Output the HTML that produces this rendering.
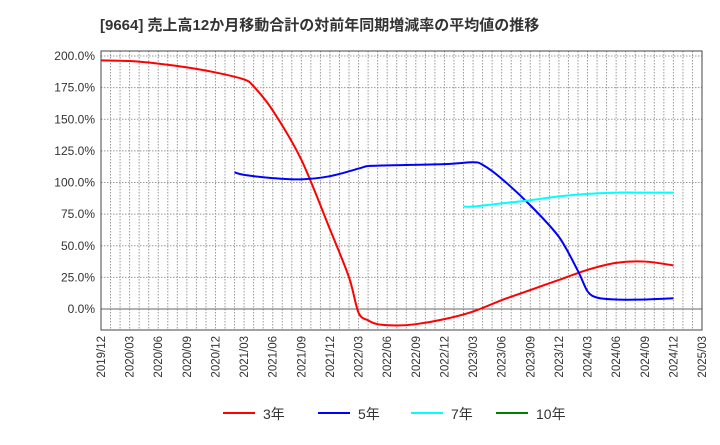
<!DOCTYPE html>
<html><head><meta charset="utf-8"><style>
body{margin:0;background:#fff;}
svg text{font-family:"Liberation Sans","Noto Sans CJK JP",sans-serif;}
</style></head><body>
<svg id="c" width="720" height="440" xmlns="http://www.w3.org/2000/svg">
<text x="100" y="30" font-size="15" font-weight="bold" fill="#333">[9664]  売上高12か月移動合計の対前年同期増減率の平均値の推移</text>
<g id="grid"></g><g id="axes"></g><g id="series"></g><g id="legend"></g>
</svg>
<script>
const months3 = [0,3,6,9,12,15,16,18,21,24,26,27,28,29,31,33,36,39,42,45,48,51,54,57,60];
const vals3 = [196.5,196,194,191,187,181.5,176,157,118,63,25,-3,-9,-12,-13,-12,-8,-2,7,15,23,31,36.5,37.5,34.5];
const months5 = [14,15,18,21,24,27,28,30,36,39,40,42,45,48,50,51,52,54,57,60];
const vals5 = [108,106,103.5,102.5,105,111,113,113.5,114.5,116,114,103,82,57,30,14,9,7.5,7.5,8.5];
const months7 = [38,39,42,45,48,51,54,57,60];
const vals7 = [81,81,83.5,86,89,91,92,92,92];
const yTicks = [0,25,50,75,100,125,150,175,200];
const xLabels = ["2019/12","2020/03","2020/06","2020/09","2020/12","2021/03","2021/06","2021/09","2021/12","2022/03","2022/06","2022/09","2022/12","2023/03","2023/06","2023/09","2023/12","2024/03","2024/06","2024/09","2024/12","2025/03"];
const L=101,R=702,T=51,B=330;
const xs=m=>L+m*(R-L)/63;
const ys=v=>309-v*(309-56)/200;
const NS="http://www.w3.org/2000/svg";
function mk(tag,attrs,parent){const e=document.createElementNS(NS,tag);for(const k in attrs)e.setAttribute(k,attrs[k]);parent.appendChild(e);return e;}
const grid=document.getElementById('grid'),axes=document.getElementById('axes'),ser=document.getElementById('series'),leg=document.getElementById('legend');
for(let m=1;m<63;m++){const l=mk('line',{x1:xs(m),x2:xs(m),y1:T,y2:B,stroke:'#999','stroke-width':1,'stroke-dasharray':'1.5,1.5'},grid);

}
yTicks.forEach(v=>{const l=mk('line',{x1:L,x2:R,y1:ys(v),y2:ys(v),stroke:v===0?'#666':'#999','stroke-width':1,'stroke-dasharray':v===0?'':'1.5,1.5'},grid);


const t=mk('text',{x:L-6,y:ys(v)+4,'text-anchor':'end','font-size':12,fill:'#333'},axes);t.textContent=v.toFixed(1)+'%';

});
const fr=mk('rect',{x:L,y:T,width:R-L,height:B-T,fill:'none',stroke:'#444','stroke-width':1},axes);


xLabels.forEach((s,i)=>{const x=xs(i*3);const t=mk('text',{transform:`translate(${x+4},${B+6}) rotate(-90)`,'text-anchor':'end','font-size':11.5,fill:'#333'},axes);t.textContent=s;

});
function line(ms,vs,color,name){
const P=ms.map((m,i)=>[xs(m),ys(vs[i])]);
let d='M'+P[0][0]+','+P[0][1];
for(let i=0;i<P.length-1;i++){const p0=P[Math.max(i-1,0)],p1=P[i],p2=P[i+1],p3=P[Math.min(i+2,P.length-1)];const k=0.15;
d+=` C${p1[0]+(p2[0]-p0[0])*k},${p1[1]+(p2[1]-p0[1])*k} ${p2[0]-(p3[0]-p1[0])*k},${p2[1]-(p3[1]-p1[1])*k} ${p2[0]},${p2[1]}`;}
const p=mk('path',{d:d,fill:'none',stroke:color,'stroke-width':2,'stroke-linejoin':'round'},ser);

}
line(months3,vals3,'#ff0000','series-3yr');
line(months5,vals5,'#0000ff','series-5yr');
line(months7,vals7,'#00ffff','series-7yr');
[['#ff0000','3年',223],['#0000ff','5年',318],['#00ffff','7年',411],['#008000','10年',496]].forEach(([c,s,x])=>{
const g=mk('g',{},leg);


mk('line',{x1:x,x2:x+32,y1:413,y2:413,stroke:c,'stroke-width':2},g);
const t=mk('text',{x:x+40,y:419,'font-size':14,fill:'#333'},g);t.textContent=s;});
</script>
</body></html>
